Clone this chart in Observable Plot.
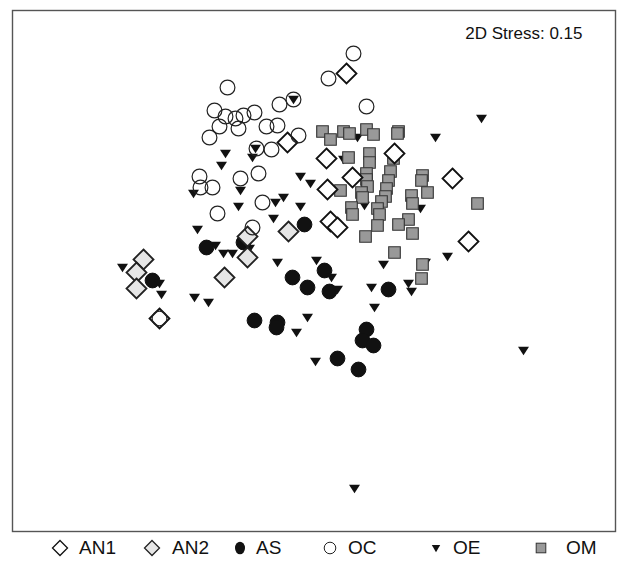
<!DOCTYPE html>
<html><head><meta charset="utf-8">
<script src="https://cdn.jsdelivr.net/npm/d3@7"></script>
<script src="https://cdn.jsdelivr.net/npm/@observablehq/plot@0.6"></script>
<style>
body{margin:0;background:#fff;font-family:"Liberation Sans",Arial,sans-serif;}
#legend{position:relative;height:26px;width:632px;font-size:19px;color:#111;}
.sym{position:absolute;top:5px;width:16px;height:16px;overflow:visible}
.lab{position:absolute;top:0;height:26px;line-height:26px}
</style></head><body>
<div id="chart"></div>
<div id="legend"></div>
<script>
// NMDS coordinates (axis 1, axis 2)
const groups = ["AN1","AN2","AS","OC","OE","OM"];
const AN1 = [[0.26,1.97],[-0.33,1.28],[0.06,1.12],[0.74,1.17],[0.32,0.93],[0.07,0.81],[1.32,0.92],[0.10,0.49],[0.17,0.43],[1.48,0.29],[-1.61,-0.48]];
const AN2 = [[-1.77,0.11],[-1.84,-0.02],[-1.84,-0.18],[-0.73,0.34],[-0.73,0.13],[-0.96,-0.07],[-0.32,0.39]];
const AS = [[-1.68,-0.10],[-1.14,0.23],[-0.77,0.28],[-0.16,0.46],[-0.28,-0.07],[-0.13,-0.17],[-0.66,-0.50],[-0.43,-0.52],[-0.44,-0.57],[0.04,0.00],[0.09,-0.21],[0.68,-0.19],[0.46,-0.59],[0.42,-0.70],[0.53,-0.75],[0.17,-0.88],[0.38,-0.99]];
const OC = [[-0.93,1.83],[-1.06,1.60],[-0.95,1.54],[-1.01,1.44],[-1.11,1.33],[-0.85,1.52],[-0.77,1.55],[-0.66,1.58],[-0.82,1.42],[-0.54,1.44],[-0.43,1.45],[-0.41,1.66],[-0.27,1.71],[-0.22,1.35],[-0.64,1.22],[-0.49,1.21],[-1.21,0.94],[-1.20,0.83],[-1.08,0.83],[-0.80,0.92],[-0.62,0.97],[-0.58,0.68],[-1.03,0.57],[-0.68,0.43],[0.33,2.17],[0.08,1.92],[0.46,1.64],[-1.61,-0.48]];
const OE = [[-0.27,1.71],[-0.65,1.22],[-0.95,1.17],[-0.99,1.05],[-0.68,1.13],[-0.80,0.80],[-1.27,0.77],[-0.82,0.64],[-0.20,0.94],[-0.10,0.87],[-0.37,0.73],[-0.45,0.68],[-0.20,0.64],[-0.47,0.52],[1.61,1.52],[1.15,1.33],[0.37,1.33],[0.23,1.11],[0.44,0.65],[1.00,0.62],[-1.23,0.41],[-1.05,0.25],[-0.97,0.17],[-0.88,0.17],[-0.71,0.22],[-0.43,0.08],[-1.98,0.03],[-1.61,-0.13],[-1.59,-0.24],[-1.26,-0.27],[-1.12,-0.32],[-0.04,0.10],[0.11,-0.07],[0.17,-0.19],[0.63,0.06],[0.51,-0.17],[0.88,-0.13],[0.91,-0.21],[1.05,0.08],[1.27,0.14],[0.54,-0.37],[-0.13,-0.47],[-0.24,-0.62],[2.03,-0.80],[-0.05,-0.91],[0.34,-2.18]];
const OM = [[0.02,1.39],[0.10,1.31],[0.23,1.39],[0.29,1.37],[0.46,1.41],[0.53,1.36],[0.78,1.39],[0.77,1.37],[0.28,1.13],[0.49,1.17],[0.49,1.08],[0.73,1.12],[0.70,0.99],[0.68,0.90],[0.66,0.82],[0.65,0.74],[0.61,0.69],[0.57,0.62],[0.59,0.56],[0.46,0.97],[0.46,0.91],[0.47,0.84],[0.41,0.78],[0.42,0.73],[0.20,0.80],[0.31,0.63],[0.32,0.56],[1.02,0.95],[1.01,0.90],[1.07,0.78],[0.91,0.75],[0.92,0.67],[1.57,0.67],[0.88,0.51],[0.78,0.46],[0.57,0.45],[0.92,0.37],[0.45,0.34],[0.74,0.18],[1.02,0.06],[1.01,-0.08]];
const stressLabel = "2D Stress: 0.15";

// symbol shapes
const diamondSym = {draw(c){const h=10;c.moveTo(0,-h);c.lineTo(h,0);c.lineTo(0,h);c.lineTo(-h,0);c.closePath();}};
const circleSym = {draw(c){c.moveTo(7.4,0);c.arc(0,0,7.4,0,2*Math.PI);c.closePath();}};
const squareSym = {draw(c){const s=5.8;c.rect(-s,-s,2*s,2*s);}};
const triSym = {draw(c){c.moveTo(-5.5,-3.8);c.lineTo(5.5,-3.8);c.lineTo(0,4.8);c.closePath();}};

const styles = {
  AN1:{symbol:diamondSym, fill:"#fff", stroke:"#111", strokeWidth:1.8},
  AN2:{symbol:diamondSym, fill:"#e6e6e6", stroke:"#222", strokeWidth:1.8},
  AS:{symbol:circleSym, fill:"#111", stroke:"#111", strokeWidth:1},
  OC:{symbol:circleSym, fill:"none", stroke:"#222", strokeWidth:1.2},
  OE:{symbol:triSym, fill:"#111", stroke:"none"},
  OM:{symbol:squareSym, fill:"#999", stroke:"#333", strokeWidth:1.1}
};
const data = {AN1, AN2, AS, OC, OE, OM};
const drawOrder = ["AS","OE","OM","AN1","AN2","OC"];

const chart = Plot.plot({
  width: 632, height: 535,
  marginLeft: 12, marginRight: 17, marginTop: 10, marginBottom: 4,
  style: {fontFamily: "'Liberation Sans', Arial, sans-serif", background: "#fff"},
  x: {domain: [-3.08, 2.95], axis: null},
  y: {domain: [-2.61, 2.60], axis: null},
  marks: [
    ...drawOrder.map(g => Plot.dot(data[g], {x: d => d[0], y: d => d[1], r: 6, ...styles[g]})),
    Plot.frame({stroke: "#555", strokeWidth: 1.4}),
    Plot.text([stressLabel], {frameAnchor: "top-right", dx: -33, dy: 23, lineAnchor: "middle", fontSize: 17, fill: "#111"})
  ]
});
document.getElementById("chart").appendChild(chart);

// legend layout
const symCenter = [60, 152, 240, 330, 436, 541];
const labStart = [79, 172, 256, 348, 453, 566];
const legend = document.getElementById("legend");
const symSvg = {
  AN1: '<path d="M0,-7.5L7.5,0L0,7.5L-7.5,0Z" fill="#fff" stroke="#111" stroke-width="1.3"/>',
  AN2: '<path d="M0,-7.5L7.5,0L0,7.5L-7.5,0Z" fill="#e6e6e6" stroke="#222" stroke-width="1.3"/>',
  AS: '<ellipse rx="5" ry="6.3" fill="#111"/>',
  OC: '<circle r="5.8" fill="none" stroke="#222" stroke-width="1"/>',
  OE: '<path d="M-4.2,-3L4.2,-3L0,4.2Z" fill="#111"/>',
  OM: '<rect x="-4.8" y="-4.8" width="9.6" height="9.6" fill="#999" stroke="#333" stroke-width="1"/>'
};
groups.forEach((g, i) => {
  legend.insertAdjacentHTML("beforeend",
    `<svg class="sym" style="left:${symCenter[i]-8}px" viewBox="-8 -8 16 16">${symSvg[g]}</svg>` +
    `<span class="lab" style="left:${labStart[i]}px">${g}</span>`);
});
</script>
</body></html>
